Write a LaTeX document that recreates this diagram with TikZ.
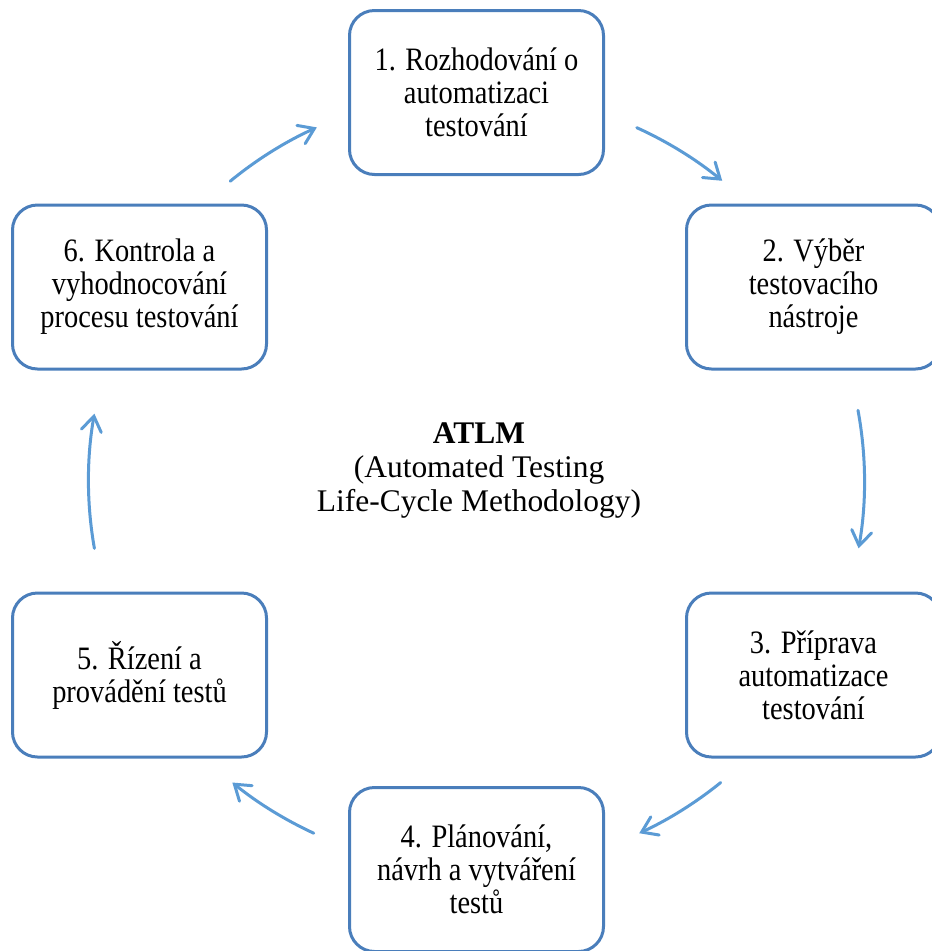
\documentclass[tikz,border=0pt]{standalone}
\usepackage{fontspec}
\setmainfont{Liberation Serif}[FakeStretch=0.87]
\newfontfamily\titlefont{Liberation Serif}
\usetikzlibrary{arrows.meta}
\definecolor{boxline}{RGB}{74,126,187}
\definecolor{arrowline}{RGB}{91,155,213}
\begin{document}
\begin{tikzpicture}[x=0.75pt,y=0.75pt,
  stage/.style={draw=boxline, line width=2.25pt, rounded corners=18.75pt,
    minimum width=190.5pt, minimum height=123pt, inner sep=0pt,
    align=center, font=\fontsize{24.5}{24.75}\selectfont},
  title/.style={align=center, font=\titlefont\fontsize{23.6}{25.5}\selectfont},
  cycarrow/.style={draw=arrowline, line width=2.25pt, line cap=round,
    -{Straight Barb[length=11pt,width=15pt,line cap=round]}}]
\useasboundingbox (0,0) rectangle (932,-951);
\clip (0,0) rectangle (932,-951);

% centre of the cycle
\coordinate (C) at (476.5,-481);

% the six stages
\node[stage] (s1) at (476.5,-92.5) {1. Rozhodování o\\automatizaci\\testování};
\node[stage] (s2) at (813.5,-287)  {2. Výběr\\testovacího\\nástroje};
\node[stage] (s3) at (813.5,-675)  {3. Příprava\\automatizace\\testování};
\node[stage] (s4) at (476.5,-869.5){4. Plánování,\\návrh a vytváření\\testů};
\node[stage] (s5) at (139.5,-675)  {5. Řízení a\\provádění testů};
\node[stage] (s6) at (139.5,-287)  {6. Kontrola a\\vyhodnocování\\procesu testování};

% title in the middle
\node[title] (t) at (479,-470) {\textbf{ATLM}\\(Automated Testing\\Life-Cycle Methodology)};

% arc arrows between the stages, on a circle round C
\coordinate (a12) at ([shift={(C)}]65.6:388);
\coordinate (a23) at ([shift={(C)}]10.5:388);
\coordinate (a34) at ([shift={(C)}]-51:388);
\coordinate (a45) at ([shift={(C)}]-114.8:388);
\coordinate (a56) at ([shift={(C)}]190:388);
\coordinate (a61) at ([shift={(C)}]129.4:388);

\draw[cycarrow] (a12) arc[start angle=65.6,  end angle=50.7,  radius=388];
\draw[cycarrow] (a23) arc[start angle=10.5,  end angle=-10,   radius=388];
\draw[cycarrow] (a34) arc[start angle=-51,   end angle=-65.2, radius=388];
\draw[cycarrow] (a45) arc[start angle=-114.8,end angle=-129,  radius=388];
\draw[cycarrow] (a56) arc[start angle=190,   end angle=170,   radius=388];
\draw[cycarrow] (a61) arc[start angle=129.4, end angle=114.3, radius=388];
\end{tikzpicture}
\end{document}
